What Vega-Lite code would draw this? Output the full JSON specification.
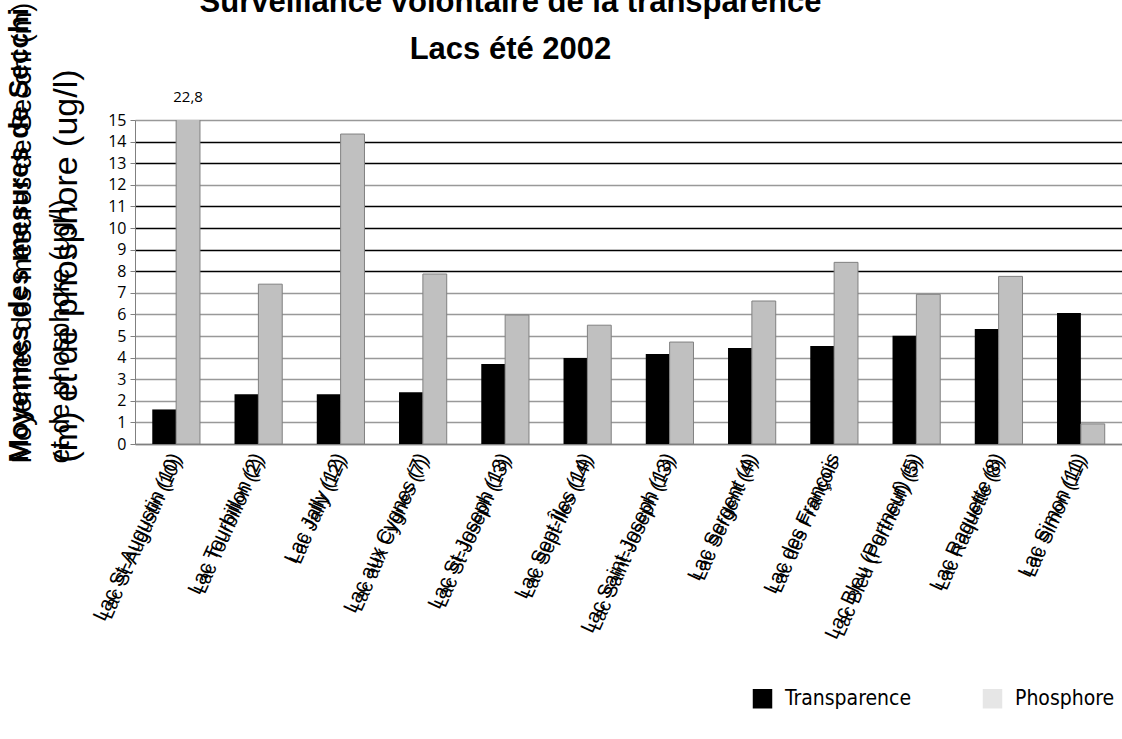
{
  "$schema": "https://vega.github.io/schema/vega-lite/v6.json",
  "width": 987,
  "height": 324,
  "autosize": "none",
  "padding": {"left": 135, "top": 120, "right": 0, "bottom": 295},
  "background": "white",
  "title": {
    "text": ["Surveillance volontaire de la transparence", "Lacs été 2002"],
    "font": "Liberation Sans",
    "fontWeight": "bold",
    "fontSize": 31,
    "lineHeight": 47,
    "color": "black",
    "anchor": "middle",
    "dx": -118,
    "offset": 0,
    "dy": 64
  },
  "data": {
    "values": [
      {"lac": "Lac St-Augustin (10)", "mesure": "Transparence", "valeur": 1.6, "etiquette": ""},
      {"lac": "Lac St-Augustin (10)", "mesure": "Phosphore", "valeur": 22.8, "etiquette": "22,8"},
      {"lac": "Lac Tourbillon (2)", "mesure": "Transparence", "valeur": 2.3, "etiquette": ""},
      {"lac": "Lac Tourbillon (2)", "mesure": "Phosphore", "valeur": 7.4, "etiquette": ""},
      {"lac": "Lac Jally (12)", "mesure": "Transparence", "valeur": 2.3, "etiquette": ""},
      {"lac": "Lac Jally (12)", "mesure": "Phosphore", "valeur": 14.35, "etiquette": ""},
      {"lac": "Lac aux Cygnes (7)", "mesure": "Transparence", "valeur": 2.4, "etiquette": ""},
      {"lac": "Lac aux Cygnes (7)", "mesure": "Phosphore", "valeur": 7.87, "etiquette": ""},
      {"lac": "Lac St-Joseph (13)", "mesure": "Transparence", "valeur": 3.7, "etiquette": ""},
      {"lac": "Lac St-Joseph (13)", "mesure": "Phosphore", "valeur": 5.97, "etiquette": ""},
      {"lac": "Lac Sept-Îles (14)", "mesure": "Transparence", "valeur": 3.98, "etiquette": ""},
      {"lac": "Lac Sept-Îles (14)", "mesure": "Phosphore", "valeur": 5.5, "etiquette": ""},
      {"lac": "Lac Saint-Joseph (13)", "mesure": "Transparence", "valeur": 4.17, "etiquette": ""},
      {"lac": "Lac Saint-Joseph (13)", "mesure": "Phosphore", "valeur": 4.72, "etiquette": ""},
      {"lac": "Lac Sergent (4)", "mesure": "Transparence", "valeur": 4.44, "etiquette": ""},
      {"lac": "Lac Sergent (4)", "mesure": "Phosphore", "valeur": 6.62, "etiquette": ""},
      {"lac": "Lac des François", "mesure": "Transparence", "valeur": 4.54, "etiquette": ""},
      {"lac": "Lac des François", "mesure": "Phosphore", "valeur": 8.41, "etiquette": ""},
      {"lac": "Lac Bleu (Portneuf) (5)", "mesure": "Transparence", "valeur": 5.01, "etiquette": ""},
      {"lac": "Lac Bleu (Portneuf) (5)", "mesure": "Phosphore", "valeur": 6.93, "etiquette": ""},
      {"lac": "Lac Raquette (8)", "mesure": "Transparence", "valeur": 5.32, "etiquette": ""},
      {"lac": "Lac Raquette (8)", "mesure": "Phosphore", "valeur": 7.76, "etiquette": ""},
      {"lac": "Lac Simon (11)", "mesure": "Transparence", "valeur": 6.06, "etiquette": ""},
      {"lac": "Lac Simon (11)", "mesure": "Phosphore", "valeur": 0.93, "etiquette": ""}
    ]
  },
  "resolve": {"axis": {"x": "independent", "y": "independent"}, "scale": {"color": "independent"}},
  "layer": [
    {
      "mark": {"type": "bar", "clip": true, "strokeWidth": 1},
      "encoding": {
        "x": {
          "field": "lac",
          "type": "nominal",
          "sort": null,
          "scale": {"paddingInner": 0.42, "paddingOuter": 0.21},
          "axis": {
            "orient": "bottom",
            "title": null,
            "labelAngle": -65,
            "labelFont": "Liberation Sans",
            "labelFontSize": 20,
            "labelColor": "black",
            "labelLimit": 0,
            "labelPadding": 10,
            "labelOverlap": false,
            "ticks": false,
            "domainColor": "#808080",
            "domainWidth": 1.5
          }
        },
        "xOffset": {"field": "mesure", "type": "nominal", "sort": ["Transparence", "Phosphore"], "scale": {"paddingInner": 0, "paddingOuter": 0}},
        "y": {
          "field": "valeur",
          "type": "quantitative",
          "scale": {"domain": [0, 15], "nice": false},
          "axis": {
            "orient": "left",
            "values": [0, 1, 2, 3, 4, 5, 6, 7, 8, 9, 10, 11, 12, 13, 14, 15],
            "labelOverlap": false,
            "labelFont": "Open Sans",
            "labelFontSize": 16,
            "labelColor": "black",
            "labelPadding": 4,
            "tickSize": 5,
            "tickColor": "#808080",
            "domainColor": "#808080",
            "grid": true,
            "gridColor": {"condition": {"test": "datum.value == 14 || datum.value == 13 || datum.value == 11 || datum.value == 10 || datum.value == 9 || datum.value == 8", "value": "black"}, "value": "#999999"},
            "gridWidth": 1.5,
            "title": "Moyennes des mesures de Secchi",
            "titleFont": "Liberation Sans",
            "titleFontWeight": "bold",
            "titleFontSize": 28,
            "titleColor": "black",
            "titleAngle": -90,
            "titleAlign": "left",
            "titleBaseline": "top",
            "titleX": -130,
            "titleY": 342
          }
        },
        "color": {
          "field": "mesure",
          "type": "nominal",
          "scale": {"domain": ["Transparence", "Phosphore"], "range": ["black", "#c0c0c0"]},
          "legend": null
        },
        "stroke": {"condition": {"test": "datum.mesure == 'Phosphore'", "value": "#808080"}, "value": null}
      }
    },
    {
      "transform": [{"filter": "datum.etiquette != ''"}],
      "mark": {"type": "text", "font": "Open Sans", "fontSize": 15, "color": "black", "dy": -23},
      "encoding": {
        "x": {"field": "lac", "type": "nominal", "sort": null, "axis": null},
        "xOffset": {"field": "mesure", "type": "nominal", "sort": ["Transparence", "Phosphore"]},
        "y": {
          "datum": 15,
          "type": "quantitative",
          "axis": {
            "orient": "left",
            "labels": false,
            "ticks": false,
            "domain": false,
            "grid": false,
            "title": ["Moyennes des mesures de Secchi (m)", "et de phosphore (ug/l)"],
            "titleFont": "Liberation Sans",
            "titleFontWeight": "normal",
            "titleFontSize": 27,
            "titleLineHeight": 38,
            "titleColor": "black",
            "titleAngle": -90,
            "titleAlign": "left",
            "titleBaseline": "top",
            "titleX": -126,
            "titleY": 343
          }
        },
        "text": {"field": "etiquette"}
      }
    },
    {
      "transform": [{"filter": "datum.valeur > 100"}],
      "mark": {"type": "point", "filled": true, "opacity": 0},
      "encoding": {
        "x": {
          "field": "lac",
          "type": "nominal",
          "sort": null,
          "axis": {
            "orient": "bottom",
            "title": null,
            "labelAngle": -66,
            "labelFont": "Liberation Sans",
            "labelFontSize": 19,
            "labelColor": "black",
            "labelLimit": 0,
            "labelPadding": 15,
            "labelOverlap": false,
            "ticks": false,
            "domain": false
          }
        },
        "y": {
          "field": "valeur",
          "type": "quantitative",
          "axis": {
            "orient": "left",
            "labels": false,
            "ticks": false,
            "domain": false,
            "grid": false,
            "title": "(m) et de phosphore (ug/l)",
            "titleFont": "Liberation Sans",
            "titleFontWeight": "normal",
            "titleFontSize": 34,
            "titleColor": "black",
            "titleAngle": -90,
            "titleAlign": "left",
            "titleBaseline": "top",
            "titleX": -86,
            "titleY": 342
          }
        },
        "color": {
          "field": "mesure",
          "type": "nominal",
          "scale": {"domain": ["Transparence", "Phosphore"], "range": ["black", "#e6e6e6"]},
          "legend": {
            "title": null,
            "orient": "none",
            "direction": "horizontal",
            "legendX": 617,
            "legendY": 568,
            "symbolType": "square",
            "symbolSize": 380,
            "symbolOpacity": 1,
            "symbolStrokeWidth": 0,
            "labelFont": "DejaVu Sans Condensed",
            "labelFontSize": 21,
            "labelColor": "black",
            "labelOffset": 12,
            "columnPadding": 70
          }
        }
      }
    }
  ]
}
